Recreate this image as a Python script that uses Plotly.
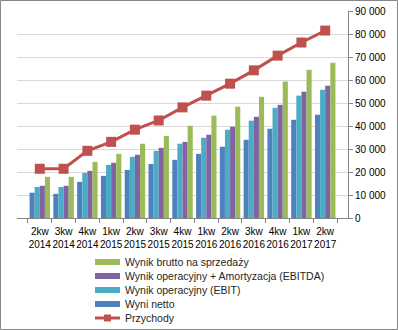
import plotly.graph_objects as go

categories = ["2kw<br>2014", "3kw<br>2014", "4kw<br>2014", "1kw<br>2015", "2kw<br>2015", "3kw<br>2015",
              "4kw<br>2015", "1kw<br>2016", "2kw<br>2016", "3kw<br>2016", "4kw<br>2016", "1kw<br>2017", "2kw<br>2017"]
wyni_netto = [11000, 10500, 15700, 18300, 20900, 23500, 25300, 27900, 31000, 34000, 38800, 42700, 44900]
ebit = [13500, 13500, 19600, 23100, 26600, 29200, 32300, 34900, 38400, 42300, 47900, 53200, 55800]
ebitda = [14000, 14000, 20500, 24000, 27500, 30500, 33100, 36200, 39700, 44000, 49200, 54900, 57500]
brutto = [17900, 17900, 24400, 27900, 32300, 35700, 40100, 44500, 48400, 52700, 59300, 64500, 67500]
przychody = [21400, 21400, 29200, 33100, 38400, 42400, 48100, 53200, 58400, 64200, 70600, 76300, 81500]
y_ticks = [0, 10000, 20000, 30000, 40000, 50000, 60000, 70000, 80000, 90000]

FONT = "Liberation Sans, Arial, sans-serif"
W, H = 398, 330
ML, MR, MT, MB = 17, 50, 11, 112
PW, PH = W - ML - MR, H - MT - MB


def px_x(x):
    return (x - ML) / PW


def px_y(y):
    return (H - MB - y) / PH


fig = go.Figure()
bars = [
    ("Wyni netto", wyni_netto, "#4F81BD"),
    ("Wynik operacyjny (EBIT)", ebit, "#4BACC6"),
    ("Wynik operacyjny + Amortyzacja (EBITDA)", ebitda, "#8064A2"),
    ("Wynik brutto na sprzedaży", brutto, "#9BBB59"),
]
for name, vals, color in bars:
    fig.add_trace(go.Bar(x=categories, y=vals, name=name, marker_color=color,
                         marker_line_width=0, showlegend=False))
line_name, line_color = "Przychody", "#C0504D"
fig.add_trace(go.Scatter(x=categories, y=przychody, name=line_name, mode="lines+markers",
                         line=dict(color=line_color, width=3),
                         marker=dict(symbol="square", size=10, color=line_color),
                         showlegend=False))

# custom compact legend (Excel style)
shapes = []
annotations = []
legend_items = list(reversed(bars)) + [(line_name, None, line_color)]
row_y = [262, 276, 290, 304, 318]
for i, (name, _, color) in enumerate(legend_items):
    yc = row_y[i]
    if i < 4:
        shapes.append(dict(type="rect", xref="paper", yref="paper",
                           x0=px_x(95), x1=px_x(120), y0=px_y(yc + 3), y1=px_y(yc - 3),
                           fillcolor=color, line=dict(width=0)))
    else:
        shapes.append(dict(type="line", xref="paper", yref="paper",
                           x0=px_x(95), x1=px_x(120), y0=px_y(yc), y1=px_y(yc),
                           line=dict(color=color, width=3)))
        shapes.append(dict(type="rect", xref="paper", yref="paper",
                           x0=px_x(104), x1=px_x(111), y0=px_y(yc + 3.5), y1=px_y(yc - 3.5),
                           fillcolor=color, line=dict(width=0)))
    annotations.append(dict(xref="paper", yref="paper", x=px_x(123), y=px_y(yc),
                            xanchor="left", yanchor="middle", showarrow=False, text=name,
                            font=dict(size=10.5, color="#262626", family=FONT)))

# outer border
shapes.append(dict(type="rect", xref="paper", yref="paper",
                   x0=px_x(0.5), x1=px_x(W - 0.5), y0=px_y(H - 0.5), y1=px_y(0.5),
                   line=dict(color="#868686", width=1), layer="below"))

fig.update_layout(
    width=W, height=H,
    margin=dict(l=ML, r=MR, t=MT, b=MB),
    paper_bgcolor="white", plot_bgcolor="white",
    barmode="group", bargap=0.14, bargroupgap=0,
    separators=", ",
    font=dict(family=FONT, size=10, color="#000000"),
    showlegend=False,
    xaxis=dict(tickangle=0, ticks="outside", tickson="boundaries", ticklen=4,
               tickcolor="#868686", showline=True, linecolor="#868686", linewidth=1,
               tickfont=dict(size=10, color="#000000"), showgrid=False, automargin=False,
               ticklabelstandoff=4),
    yaxis=dict(side="right", range=[0, 90000], tickvals=y_ticks, tickformat=",d",
               ticks="outside", ticklen=4, tickcolor="#868686", showline=True,
               linecolor="#868686", linewidth=1, showgrid=True, gridcolor="#D9D9D9",
               zeroline=False, tickfont=dict(size=10, color="#000000"), automargin=False),
    shapes=shapes,
    annotations=annotations,
)
fig.write_html("out.html")
